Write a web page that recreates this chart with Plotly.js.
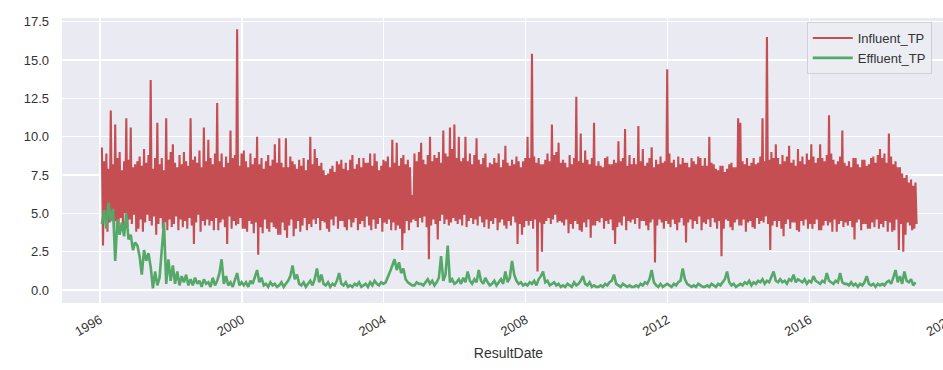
<!DOCTYPE html>
<html><head><meta charset="utf-8">
<script src="https://cdn.plot.ly/plotly-3.0.1.min.js"></script>
<style>html,body{margin:0;padding:0;overflow:hidden;background:#fff}</style>
</head><body><div id="chart" style="width:960px;height:370px"></div>
<script>
// Sampling: influent about 32 readings per year, effluent about 16 per year
const startDate = '1996-01-20';
const influentStepDays = 365.25 / 32;
const effluentStepDays = 365.25 / 16;

const influentTP = [
9.3,2.9,8.4,4.6,8.9,3.8,7.9,4.4,11.7,4.8,8.2,4.0,10.8,4.5,8.6,3.9,9.0,4.7,7.8,4.2,8.4,5.0,11.2,4.1,8.5,4.6,10.6,4.3,8.0,4.9,8.2,3.8,
8.4,4.0,8.7,4.6,8.1,3.8,9.2,4.4,8.3,4.9,8.8,4.5,13.7,4.2,7.9,4.8,8.6,3.6,10.9,4.3,8.2,4.7,8.6,4.0,7.8,4.4,11.2,3.9,8.5,4.6,9.0,4.1,
9.5,4.3,8.3,4.8,8.0,3.9,8.8,4.6,8.2,4.1,9.0,4.5,8.4,4.0,8.1,4.7,11.2,4.2,8.5,3.0,8.7,4.4,8.3,4.9,9.1,3.8,8.0,4.5,10.6,4.2,8.4,4.6,
9.8,4.2,8.6,4.5,8.2,3.9,8.9,4.7,12.2,3.9,8.4,4.4,8.9,4.6,8.0,4.1,8.7,3.0,8.3,4.8,10.4,4.0,8.6,4.5,8.8,4.2,17.0,4.3,8.1,4.7,8.9,4.0,
9.1,4.0,8.4,3.8,8.0,4.5,8.9,4.3,8.2,3.7,8.6,4.4,10.0,2.3,8.2,4.1,8.6,3.7,7.9,4.6,8.4,4.0,8.8,3.8,8.1,4.4,8.5,4.1,9.5,4.0,8.3,3.6,
9.9,3.6,8.3,4.4,8.0,3.9,9.9,3.4,8.0,4.2,8.7,4.6,8.4,3.5,8.2,4.0,7.9,4.5,8.5,3.8,8.1,4.2,8.6,4.7,7.8,3.9,8.5,4.3,10.0,4.1,8.2,4.6,
9.2,4.3,8.6,4.7,8.1,3.9,8.3,4.5,7.8,4.4,7.5,4.0,7.6,3.8,7.9,4.6,8.1,4.2,7.7,4.8,8.4,4.0,8.2,4.5,8.5,4.5,7.9,4.1,8.3,3.9,7.8,4.6,
8.5,4.1,8.8,4.4,7.9,4.7,8.2,3.9,8.6,4.3,8.0,4.5,8.6,4.1,8.3,4.8,8.3,4.2,8.9,3.9,8.1,4.6,8.9,4.0,8.4,4.3,7.8,4.7,8.1,3.8,8.5,4.4,
8.4,4.3,8.7,4.6,8.0,3.9,9.8,4.4,8.3,3.9,9.6,4.2,8.1,4.0,8.6,2.6,8.8,3.7,8.2,4.5,8.5,3.9,8.0,4.4,6.2,4.6,8.9,4.5,8.4,4.1,9.0,4.7,
9.6,4.4,8.5,4.8,8.2,4.1,8.8,2.0,10.0,4.2,8.4,4.6,8.8,4.3,8.6,3.3,9.0,4.5,8.3,4.9,10.4,4.3,8.9,4.6,8.7,4.2,10.6,4.4,9.2,4.7,10.8,4.5,
8.6,4.3,10.0,4.6,8.4,4.2,8.6,4.9,10.0,4.1,8.4,4.5,8.9,4.7,8.2,4.3,8.8,4.6,9.9,4.2,8.5,4.8,8.2,4.4,8.6,4.1,8.9,4.6,8.0,4.0,8.3,4.5,
8.2,4.3,8.6,4.7,8.3,3.9,8.9,4.4,8.0,4.6,8.5,4.2,9.4,4.0,8.3,4.5,8.1,4.2,8.5,4.8,8.2,4.4,8.7,3.0,8.4,4.3,8.0,3.6,8.4,4.1,8.6,4.5,
10.0,4.2,8.6,4.5,15.4,4.0,8.7,4.6,8.3,1.2,8.6,4.4,8.2,2.5,8.2,4.3,8.5,4.5,8.9,4.7,8.4,4.3,10.8,4.6,8.8,4.9,9.0,4.4,9.6,4.5,8.3,4.4,
8.5,4.2,8.3,4.6,8.0,3.7,8.8,4.3,8.2,4.0,8.6,4.5,12.6,4.3,8.4,3.9,10.2,3.8,8.3,4.4,9.1,4.1,8.5,4.6,8.2,3.4,8.6,4.2,10.9,4.2,8.1,4.5,
8.4,4.4,8.1,4.7,8.0,4.0,8.6,4.5,8.7,4.3,8.2,4.6,8.2,3.9,8.5,3.0,8.3,4.1,9.7,4.4,8.4,4.2,8.6,4.8,10.5,3.9,8.1,4.5,8.8,4.4,8.2,4.6,
8.6,4.3,8.2,4.7,10.7,4.0,8.4,4.5,9.2,4.5,8.1,4.2,8.3,3.9,8.6,4.4,9.3,4.6,8.0,1.8,8.5,4.2,8.2,4.6,8.7,4.4,8.3,4.0,8.4,4.5,14.4,4.3,
8.9,4.1,8.3,4.6,8.5,4.3,8.0,3.9,8.7,4.4,8.2,4.7,8.6,4.2,8.3,3.1,8.3,4.4,8.0,4.6,8.6,4.0,8.4,4.5,8.2,4.3,8.7,4.8,8.6,3.9,8.1,4.4,
8.6,4.3,8.1,4.6,10.0,4.1,8.3,4.7,8.2,4.4,7.9,4.0,7.8,4.5,8.1,2.2,8.1,4.0,7.7,4.6,7.9,4.5,8.2,4.1,8.3,3.9,8.0,4.4,8.0,4.6,11.2,4.2,
10.9,4.2,8.4,4.6,8.2,3.8,8.6,4.4,8.1,4.5,8.3,4.1,8.6,4.0,8.2,4.7,8.3,4.3,8.7,4.5,11.2,4.4,8.4,4.8,16.5,4.3,8.5,2.6,9.0,4.2,8.6,4.5,
9.5,4.1,8.6,4.5,8.2,4.0,8.8,3.5,8.4,4.3,8.7,4.6,9.4,4.0,8.3,4.4,8.5,4.4,8.1,3.9,9.2,3.8,8.4,4.5,8.7,4.2,8.2,4.6,8.9,4.0,8.5,4.3,
9.5,4.0,8.7,4.3,8.3,4.6,8.6,3.9,9.5,3.9,8.6,4.2,8.4,4.5,8.8,4.2,11.4,4.4,8.9,3.8,8.5,4.6,8.2,3.8,8.4,4.3,8.7,4.5,10.4,4.1,8.3,4.4,
8.1,4.2,8.4,4.5,8.0,4.1,8.6,3.3,8.6,4.4,8.2,4.6,8.0,3.9,8.5,4.3,8.5,4.3,8.1,4.0,8.2,4.0,8.6,4.4,8.7,4.1,8.3,4.6,8.8,4.0,9.2,4.3,
8.6,4.1,8.9,4.5,8.3,3.8,10.2,4.4,8.7,3.8,8.2,3.9,8.4,4.6,8.0,2.6,8.0,4.3,7.6,2.5,7.3,3.6,7.5,4.4,7.0,4.2,7.2,3.9,6.8,4.0,7.0,4.3
];

const effluentTP = [
4.3,5.2,4.0,5.7,4.5,5.3,1.9,4.6,3.6,4.4,3.5,5.0,3.3,3.6,2.6,3.1,
2.9,2.2,1.0,2.6,1.9,2.4,1.5,0.1,1.2,0.3,0.8,2.7,4.4,0.4,2.0,0.6,
1.6,0.4,1.2,0.3,0.9,0.5,1.0,0.3,0.7,0.3,0.8,0.4,0.6,0.2,0.7,0.4,
0.5,0.2,0.8,0.3,0.6,1.1,2.0,0.4,0.9,0.3,0.5,0.2,0.6,1.1,0.3,0.5,
0.3,0.5,0.2,0.6,0.4,0.9,1.3,0.5,0.8,0.3,0.4,0.2,0.5,0.3,0.4,0.2,
0.3,0.5,0.2,0.4,0.6,0.9,1.6,0.7,1.0,0.4,0.3,0.5,0.2,0.4,0.6,0.3,
0.7,1.4,0.5,1.0,0.4,0.3,0.5,0.2,0.4,0.3,0.6,1.1,0.4,0.3,0.5,0.2,
0.3,0.2,0.4,0.3,0.5,0.2,0.3,0.4,0.2,0.5,0.3,0.6,0.4,0.3,0.5,0.4,
0.5,0.8,1.2,1.6,2.0,1.3,1.8,1.1,1.4,0.7,0.5,0.4,0.3,0.3,0.5,0.4,
0.4,0.3,0.5,0.7,0.4,0.6,0.3,0.5,0.8,2.2,0.6,1.0,2.9,0.5,0.7,0.4,
0.5,0.7,0.4,0.8,0.5,1.2,0.6,0.4,0.7,0.5,1.3,0.6,0.4,0.8,0.5,0.3,
0.4,0.6,0.3,0.5,0.7,0.4,1.2,0.5,0.8,1.9,1.0,0.6,0.4,0.5,0.3,0.4,
0.3,0.5,0.4,0.6,0.3,0.7,0.9,1.2,0.5,0.6,0.3,0.4,0.5,0.3,0.4,0.2,
0.3,0.2,0.4,0.3,0.2,0.5,0.3,0.4,0.6,0.9,0.4,0.3,0.5,0.2,0.3,0.2,
0.2,0.3,0.2,0.4,0.3,0.5,0.6,1.0,0.4,0.3,0.2,0.4,0.3,0.2,0.3,0.2,
0.2,0.3,0.2,0.4,0.3,0.5,0.4,0.7,1.3,0.5,0.3,0.2,0.4,0.2,0.3,0.4,
0.3,0.2,0.4,0.3,0.5,0.6,1.4,0.7,0.4,0.3,0.2,0.3,0.2,0.4,0.3,0.2,
0.2,0.3,0.2,0.4,0.3,0.2,0.4,0.3,0.5,0.7,1.2,0.5,0.3,0.4,0.2,0.3,
0.4,0.3,0.5,0.4,0.6,0.3,0.5,0.4,0.6,0.5,0.7,0.4,0.6,0.5,0.8,1.2,
0.6,0.5,0.7,0.5,0.6,0.4,0.7,0.6,1.0,0.5,0.7,0.6,0.5,0.7,0.4,0.6,
0.5,0.9,0.6,0.5,0.4,0.6,0.5,1.1,0.6,0.5,0.4,0.6,0.5,1.1,0.5,0.4,
0.4,0.3,0.5,0.3,0.4,0.2,0.4,0.3,0.5,0.9,0.4,0.3,0.4,0.2,0.4,0.3,
0.4,0.3,0.5,0.6,0.4,0.8,1.3,0.5,0.9,0.4,1.2,0.6,0.5,0.7,0.3,0.5
];

const seriesNames = ['Influent_TP', 'Effluent_TP'];
const yTickVals = [0, 2.5, 5, 7.5, 10, 12.5, 15, 17.5];
const xTickVals = ['1996-01-01','2000-01-01','2004-01-01','2008-01-01','2012-01-01','2016-01-01','2020-01-01'];
const xTickText = ['1996','2000','2004','2008','2012','2016','2020'];
const xTitle = 'ResultDate';

function sampleDates(n, stepDays) {
  const t0 = Date.parse(startDate + 'T00:00:00Z');
  const out = [];
  for (let i = 0; i < n; i++) {
    out.push(new Date(t0 + i * stepDays * 86400000).toISOString().slice(0, 19).replace('T', ' '));
  }
  return out;
}

const font = 'Liberation Sans, Arial, sans-serif';
const traces = [
  {x: sampleDates(influentTP.length, influentStepDays), y: influentTP, name: seriesNames[0], type: 'scatter', mode: 'lines',
   line: {color: '#C44E52', width: 2.1}},
  {x: sampleDates(effluentTP.length, effluentStepDays), y: effluentTP, name: seriesNames[1], type: 'scatter', mode: 'lines',
   line: {color: '#55A868', width: 2.6}}
];

const layout = {
  width: 960, height: 370,
  margin: {l: 62, r: 5, t: 18, b: 67},
  paper_bgcolor: '#ffffff', plot_bgcolor: '#EAEAF2',
  font: {family: font, size: 13, color: '#333333'},
  showlegend: true,
  legend: {x: 0.834, y: 0.986, xanchor: 'left', yanchor: 'top', itemwidth: 40,
    bgcolor: 'rgba(236,236,243,0.85)', bordercolor: '#CFCFD6', borderwidth: 1,
    font: {family: font, size: 13, color: '#333333'}, tracegroupgap: 0},
  xaxis: {type: 'date', range: ['1994-12-05', '2020-02-08'],
    tickvals: xTickVals, ticktext: xTickText, tickangle: -30, ticklabelstandoff: 6,
    showgrid: true, gridcolor: '#FFFFFF', gridwidth: 1.3, zeroline: false, showline: false,
    ticks: '', tickfont: {family: font, size: 13, color: '#333333'},
    title: {text: xTitle, font: {family: font, size: 14, color: '#333333'}, standoff: 10}},
  yaxis: {range: [-0.85, 17.74], tickvals: yTickVals, tickformat: '.1f',
    showgrid: true, gridcolor: '#FFFFFF', gridwidth: 1.3, zeroline: false, showline: false,
    ticks: '', ticklabelstandoff: 12, tickfont: {family: font, size: 13, color: '#333333'}}
};

Plotly.newPlot('chart', traces, layout, {displayModeBar: false, staticPlot: true});
</script>
</body></html>
